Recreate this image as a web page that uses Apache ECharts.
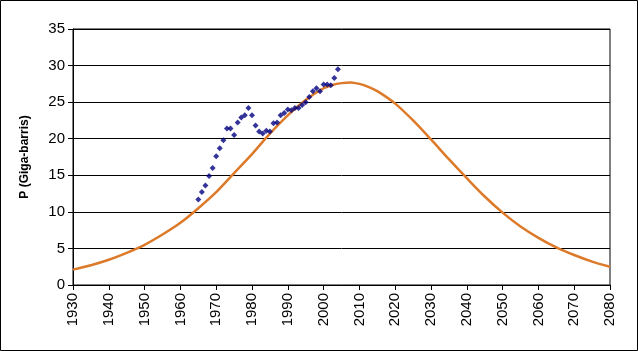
<!DOCTYPE html>
<html>
<head>
<meta charset="utf-8">
<script src="https://cdn.jsdelivr.net/npm/echarts@6/dist/echarts.min.js"></script>
<style>
  html, body { margin: 0; padding: 0; background: #fff; }
  #chart { width: 638px; height: 351px; }
</style>
</head>
<body>
<div id="chart"></div>
<script>
// modelled curve, read every 5 years (and a few extra near the peak)
var curveYears = [1930, 1935, 1940, 1945, 1950, 1955, 1960, 1965, 1970, 1975, 1980, 1985, 1990, 1995, 2000, 2002.5,
	2005, 2007.5, 2010, 2012.5, 2015, 2020, 2025, 2030, 2035, 2040, 2045, 2050, 2055, 2060, 2065, 2070, 2075, 2080];
var curveValues = [2.1, 2.7, 3.45, 4.4, 5.5, 6.9, 8.5, 10.5, 12.7, 15.3, 17.9, 20.7, 23.2, 25.3, 26.9, 27.35,
	27.6, 27.7, 27.5, 27.1, 26.5, 24.8, 22.5, 19.9, 17.2, 14.6, 12.1, 9.9, 8.0, 6.45, 5.15, 4.1, 3.2, 2.5];

// observed production 1965-2004
var obsYears = [1965, 1966, 1967, 1968, 1969, 1970, 1971, 1972, 1973, 1974, 1975, 1976, 1977, 1978, 1979,
	1980, 1981, 1982, 1983, 1984, 1985, 1986, 1987, 1988, 1989, 1990, 1991, 1992, 1993, 1994,
	1995, 1996, 1997, 1998, 1999, 2000, 2001, 2002, 2003, 2004];
var obsValues = [11.7, 12.7, 13.6, 14.9, 16.0, 17.6, 18.7, 19.8, 21.4, 21.4, 20.5, 22.2, 22.9, 23.2, 24.2,
	23.2, 21.8, 21.0, 20.7, 21.1, 21.0, 22.1, 22.2, 23.2, 23.5, 24.0, 23.9, 24.2, 24.2, 24.6,
	25.0, 25.7, 26.5, 26.9, 26.5, 27.4, 27.4, 27.3, 28.3, 29.5];

var yTicks = [0, 5, 10, 15, 20, 25, 30, 35];

function pairs(xs, ys) {
	var out = [];
	for (var i = 0; i < xs.length; i++) out.push([xs[i], ys[i]]);
	return out;
}

var myChart = echarts.init(document.getElementById('chart'));
myChart.setOption({
	animation: false,
	textStyle: { fontFamily: 'Liberation Sans, Arial, sans-serif' },
	graphic: [{
		type: 'rect',
		shape: { x: 0.5, y: 0.5, width: 637, height: 350 },
		style: { fill: null, stroke: '#000', lineWidth: 1 },
		silent: true
	}],
	grid: {
		left: 73,
		right: 28,
		top: 29,
		bottom: 66,
		show: true,
		borderColor: '#000',
		borderWidth: 1
	},
	xAxis: {
		type: 'value',
		min: 1930,
		max: 2080,
		interval: 10,
		axisLine: { lineStyle: { color: '#000', width: 1 } },
		axisTick: { show: true, length: 5, lineStyle: { color: '#000' } },
		axisLabel: {
			rotate: 90,
			margin: 8,
			fontSize: 15,
			color: '#000',
			formatter: function (v) { return String(v); }
		},
		splitLine: { show: false }
	},
	yAxis: {
		type: 'value',
		min: yTicks[0],
		max: yTicks[yTicks.length - 1],
		interval: 5,
		name: 'P (Giga-barris)',
		nameLocation: 'middle',
		nameGap: 42,
		nameTextStyle: { fontSize: 12, fontWeight: 'bold', color: '#000' },
		axisLine: { show: true, lineStyle: { color: '#000', width: 1 } },
		axisTick: { show: true, length: 5, lineStyle: { color: '#000' } },
		axisLabel: { fontSize: 15, color: '#000', margin: 8 },
		splitLine: { show: true, lineStyle: { color: '#000', width: 1 } }
	},
	series: [{
		name: 'curve',
		type: 'line',
		data: pairs(curveYears, curveValues),
		smooth: 0.3,
		showSymbol: false,
		lineStyle: { color: '#DD7A2A', width: 2.5 },
		z: 2
	}, {
		name: 'observed',
		type: 'scatter',
		data: pairs(obsYears, obsValues),
		symbol: 'diamond',
		symbolSize: 6,
		itemStyle: { color: '#000080' },
		z: 3
	}]
});
</script>
</body>
</html>
